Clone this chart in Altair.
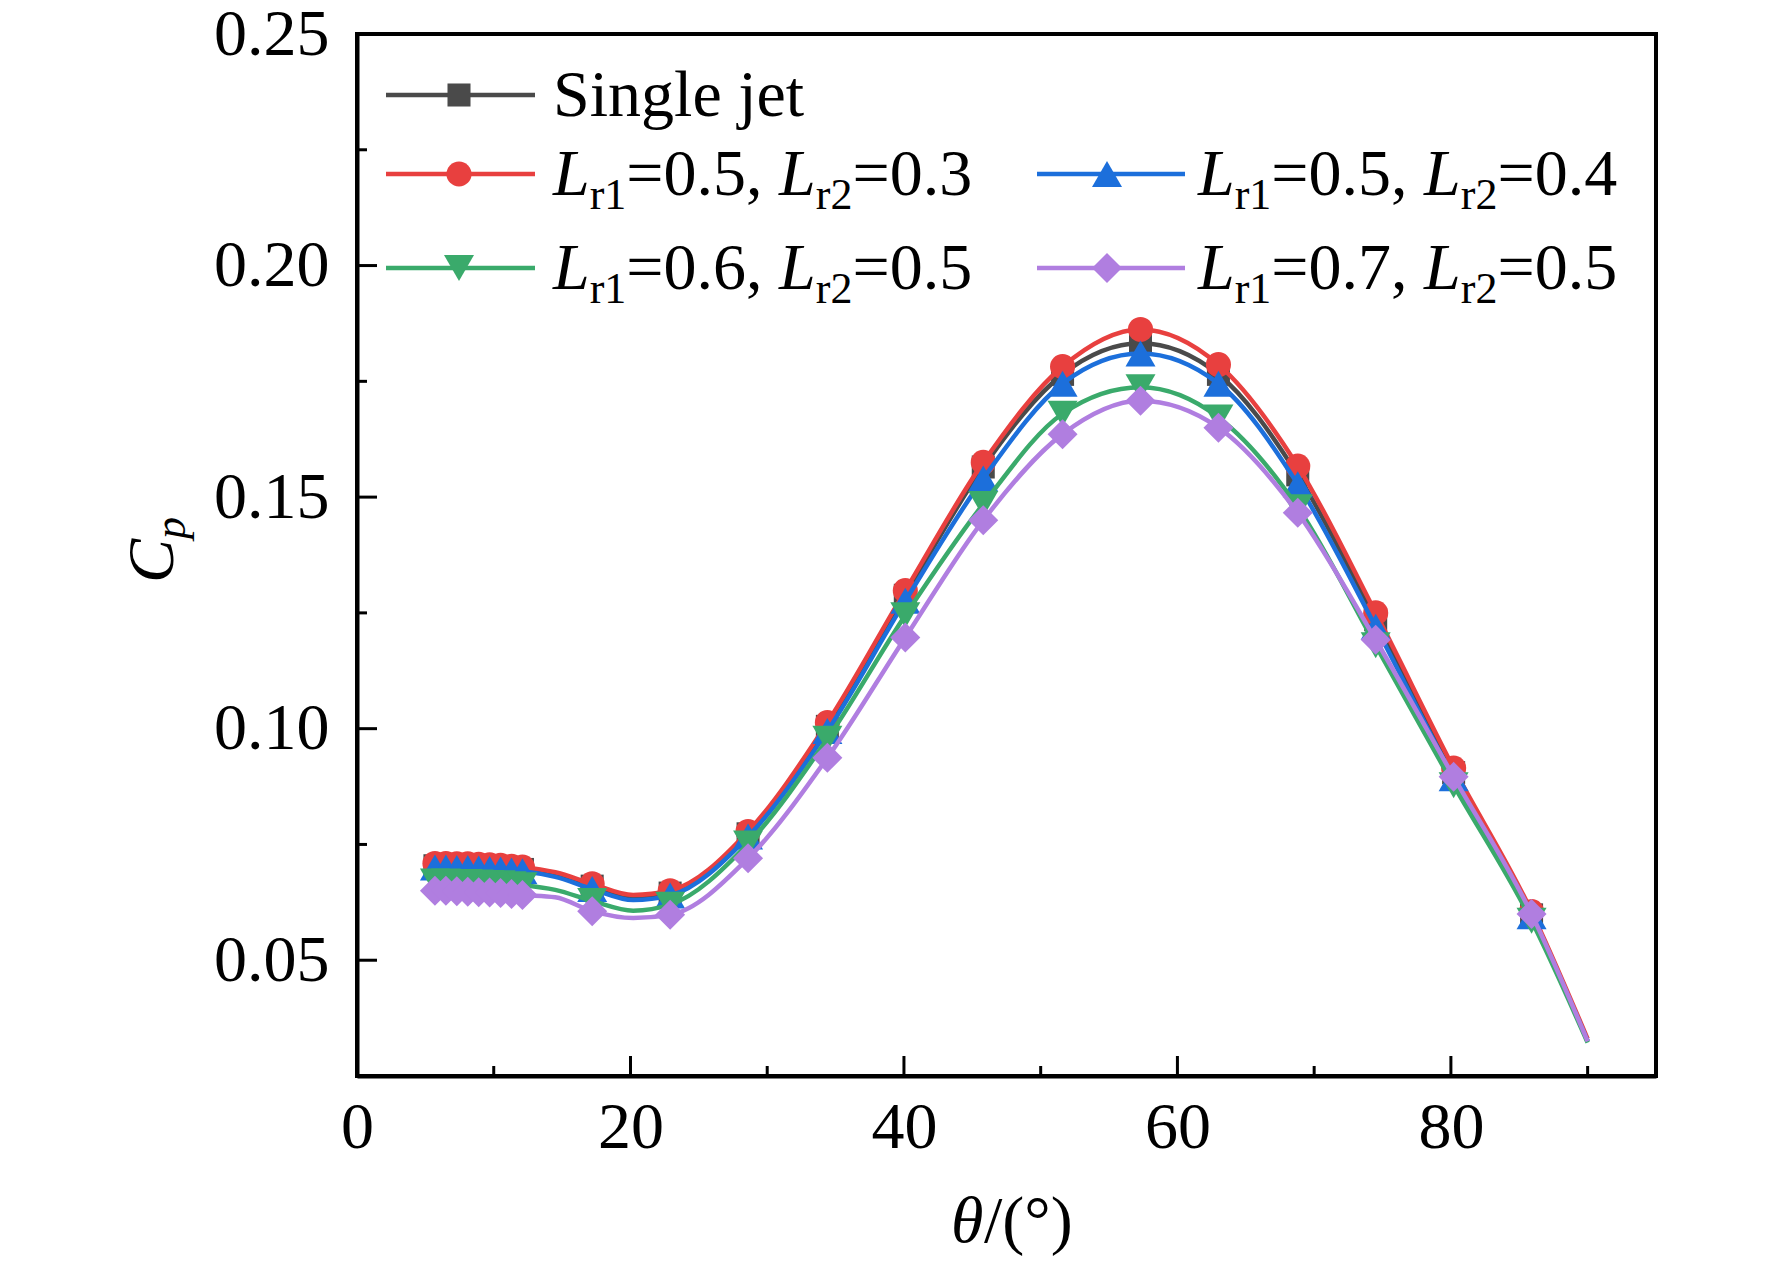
import altair as alt
import pandas as pd

# ---------------- data ----------------
theta_markers = [5.7, 6.5, 7.3, 8.1, 8.9, 9.7, 10.5, 11.3, 12.1, 17.2, 22.9, 28.6,
                 34.4, 40.1, 45.8, 51.6, 57.3, 63.0, 68.8, 74.5, 80.2, 85.9]
theta_curve_extra = [14.5, 20.2, 90.0]

single_jet = [0.0704, 0.0704, 0.0703, 0.0703, 0.0702, 0.0701, 0.0700, 0.0698, 0.0696,
              0.0660, 0.0645, 0.0773, 0.1005, 0.1288, 0.1565, 0.1765, 0.1832, 0.1765,
              0.1548, 0.1235, 0.0905, 0.0598]
single_jet_extra = [0.0685, 0.0636, 0.0325]

lr05_03 = [0.0709, 0.0709, 0.0708, 0.0708, 0.0707, 0.0706, 0.0705, 0.0703, 0.0701,
           0.0665, 0.0650, 0.0778, 0.1013, 0.1298, 0.1575, 0.1782, 0.1862, 0.1786,
           0.1567, 0.1250, 0.0915, 0.0605]
lr05_03_extra = [0.0690, 0.0641, 0.0330]

lr05_04 = [0.0700, 0.0700, 0.0699, 0.0699, 0.0698, 0.0697, 0.0696, 0.0694, 0.0692,
           0.0654, 0.0640, 0.0767, 0.0995, 0.1276, 0.1540, 0.1745, 0.1810, 0.1745,
           0.1528, 0.1220, 0.0893, 0.0595]
lr05_04_extra = [0.0680, 0.0630, 0.0325]

lr06_05 = [0.0670, 0.0670, 0.0669, 0.0669, 0.0668, 0.0667, 0.0666, 0.0664, 0.0662,
           0.0628, 0.0620, 0.0752, 0.0978, 0.1245, 0.1485, 0.1680, 0.1737, 0.1672,
           0.1478, 0.1180, 0.0878, 0.0585]
lr06_05_extra = [0.0652, 0.0607, 0.0322]

lr07_05 = [0.0650, 0.0650, 0.0649, 0.0648, 0.0647, 0.0646, 0.0645, 0.0643, 0.0641,
           0.0606, 0.0598, 0.0720, 0.0937, 0.1197, 0.1450, 0.1636, 0.1708, 0.1650,
           0.1466, 0.1192, 0.0896, 0.0600]
lr07_05_extra = [0.0636, 0.0591, 0.0325]

series_keys = ["single", "a", "b", "c", "d"]
series_values = [single_jet, lr05_03, lr05_04, lr06_05, lr07_05]
series_extra = [single_jet_extra, lr05_03_extra, lr05_04_extra, lr06_05_extra, lr07_05_extra]
series_lr = [None, ("0.5", "0.3"), ("0.5", "0.4"), ("0.6", "0.5"), ("0.7", "0.5")]
series_colors = ["#4a4a4a", "#e8403f", "#1c6fdb", "#3aaa6b", "#b07ee0"]
series_shapes = ["square", "circle", "triangle-up", "triangle-down", "diamond"]
series_sizes = [530, 630, 900, 900, 900]

x_major = [0, 20, 40, 60, 80]
x_minor = [10, 30, 50, 70, 90]
y_major = [0.05, 0.10, 0.15, 0.20, 0.25]
y_minor = [0.075, 0.125, 0.175, 0.225]

# ---------------- layout ----------------
W, H = 1299, 1042
FONT = "Liberation Serif"
FS = 66
SUB = 44

x_scale = alt.Scale(domain=[0, 95], nice=False, zero=False)
y_scale = alt.Scale(domain=[0.025, 0.25], nice=False, zero=False)
x_axis = alt.Axis(values=x_major, format="d", title=None, ticks=False, grid=False,
                  labelPadding=19, labelFlush=False, labelOverlap=False)
y_axis = alt.Axis(values=y_major, format=".2f", title=None, ticks=False, grid=False,
                  labelPadding=28, labelFlush=False, labelOverlap=False)


def xenc(field):
    return alt.X(field, type="quantitative", scale=x_scale, axis=x_axis)


def yenc(field):
    return alt.Y(field, type="quantitative", scale=y_scale, axis=y_axis)


layers = []

# series: line then markers, in drawing order
for key, vals, extra, col, shp, sz in zip(series_keys, series_values, series_extra,
                                          series_colors, series_shapes, series_sizes):
    mdf = pd.DataFrame({"theta": theta_markers, "cp": vals})
    cdf = pd.concat([mdf, pd.DataFrame({"theta": theta_curve_extra, "cp": extra})])
    cdf = cdf.sort_values("theta").reset_index(drop=True)
    layers.append(alt.Chart(cdf).mark_line(color=col, strokeWidth=4.5,
                                           interpolate="monotone")
                  .encode(x=xenc("theta"), y=yenc("cp"), order="theta:Q"))
    layers.append(alt.Chart(mdf).mark_point(shape=shp, size=sz, filled=True,
                                            color=col, opacity=1, strokeWidth=0)
                  .encode(x=xenc("theta"), y=yenc("cp")))

# inward ticks
layers.append(alt.Chart(pd.DataFrame({"v": x_major})).mark_rule(color="black", strokeWidth=3)
              .encode(x=xenc("v"), y=alt.value(H), y2=alt.value(H - 20)))
layers.append(alt.Chart(pd.DataFrame({"v": x_minor})).mark_rule(color="black", strokeWidth=3)
              .encode(x=xenc("v"), y=alt.value(H), y2=alt.value(H - 10)))
layers.append(alt.Chart(pd.DataFrame({"v": y_major})).mark_rule(color="black", strokeWidth=3)
              .encode(y=yenc("v"), x=alt.value(0), x2=alt.value(20)))
layers.append(alt.Chart(pd.DataFrame({"v": y_minor})).mark_rule(color="black", strokeWidth=3)
              .encode(y=yenc("v"), x=alt.value(0), x2=alt.value(10)))

# text helpers (Times metrics)
WID = {"L": 0.556, "r": 0.333, "=": 0.564, ".": 0.25, ",": 0.25, " ": 0.25,
       "p": 0.5, "C": 0.667, "θ": 0.5}


def width(txt, size):
    return sum(WID.get(ch, 0.5) for ch in txt) * size


def text_layer(txt, x, y, size=FS, italic=False, angle=0, align="left"):
    kw = dict(font=FONT, fontSize=size, color="black", align=align,
              baseline="alphabetic", angle=angle)
    if italic:
        kw["fontStyle"] = "italic"
    return (alt.Chart(pd.DataFrame({"t": [txt]})).mark_text(**kw)
            .encode(x=alt.value(x), y=alt.value(y), text="t:N"))


# legend
leg_cols = [(29, 178, 102, 196), (680, 828, 750, 841)]
leg_rows = [61, 140, 234]
leg_pos = [(0, 0), (0, 1), (1, 1), (0, 2), (1, 2)]
for i, (col, shp, sz) in enumerate(zip(series_colors, series_shapes, series_sizes)):
    c, r = leg_pos[i]
    x1, x2, xm, xt = leg_cols[c]
    yy = leg_rows[r]
    one = pd.DataFrame({"k": [0]})
    layers.append(alt.Chart(one).mark_rule(color=col, strokeWidth=4.5)
                  .encode(x=alt.value(x1), x2=alt.value(x2), y=alt.value(yy)))
    layers.append(alt.Chart(one).mark_point(shape=shp, size=sz, filled=True, color=col,
                                            opacity=1, strokeWidth=0)
                  .encode(x=alt.value(xm), y=alt.value(yy)))
    base = yy + 21
    if series_lr[i] is None:
        layers.append(text_layer("Single jet", xt, base))
    else:
        a, b = series_lr[i]
        segs = [("L", "it"), ("r1", "sub"), ("=" + a + ", ", "rm"),
                ("L", "it"), ("r2", "sub"), ("=" + b, "rm")]
        xc = xt
        for s, st in segs:
            if st == "sub":
                layers.append(text_layer(s, xc, base + 14, size=SUB))
                xc += width(s, SUB)
            else:
                layers.append(text_layer(s, xc, base, italic=(st == "it")))
                xc += width(s, FS)

# axis titles
# y: C_p rotated
layers.append(text_layer("C", -184, 549, italic=True, angle=270))
layers.append(text_layer("p", -172, 549 - width("C", FS), size=SUB, italic=True, angle=270))
# x: θ/(°)
tx0 = 594
layers.append(text_layer("θ", tx0, 1208, italic=True))
layers.append(text_layer("/(°)", tx0 + width("θ", FS), 1208))

chart = alt.layer(*layers).properties(
    width=W, height=H,
    autosize=alt.AutoSizeParams(type="none"),
    padding={"left": 349, "top": 26, "right": 100, "bottom": 181},
).configure_view(stroke="black", strokeWidth=4).configure_axis(
    labelFont=FONT, labelFontSize=FS, labelColor="black",
    domainColor="black", domainWidth=4,
)

chart.save("out.html", embed_options={"renderer": "svg", "actions": False})
